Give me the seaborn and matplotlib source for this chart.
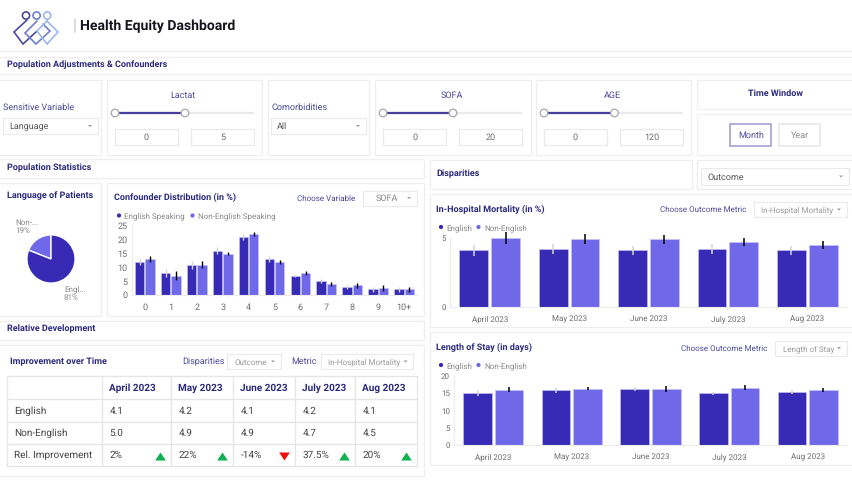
import pandas as pd
import seaborn as sns
import matplotlib.pyplot as plt
from matplotlib.patches import Circle, Polygon, Rectangle

W, H = 853, 480
DARK = '#372BB5'
LIGHT = '#6F69EA'
NAVY = '#2B2A80'
LABEL = '#4A4A9A'
GREY = '#6E6E6E'
BORDER = '#EFEFEF'

# confounder distribution
sofa_bins = ['0', '1', '2', '3', '4', '5', '6', '7', '8', '9', '10+']
sofa_english = [12, 8, 11, 16, 21, 13, 7, 5, 3, 2, 2]
sofa_non_english = [13, 7, 11, 15, 22, 12, 8, 4, 3.5, 2.5, 2]
sofa_english_err = [1, 1.5, 1.5, 1.3, 1, 1, 0.4, 0.8, 0.7, 0.8, 0.8]
sofa_non_english_err = [1.1, 1.7, 1.2, 0.5, 0.7, 0.6, 0.8, 0.8, 0.8, 1, 1]

# outcome charts
months = ['April 2023', 'May 2023', 'June 2023', 'July 2023', 'Aug 2023']
mortality_english = [4.1, 4.2, 4.1, 4.2, 4.1]
mortality_non_english = [5.0, 4.9, 4.9, 4.7, 4.5]
mortality_english_err = [0.38, 0.35, 0.3, 0.36, 0.33]
mortality_non_english_err = [0.45, 0.37, 0.35, 0.28, 0.29]
stay_english = [15.1, 15.8, 16.3, 15.0, 15.4]
stay_non_english = [16.0, 16.3, 16.2, 16.6, 16.0]
stay_english_err = [0.8, 0.6, 0.6, 0.5, 0.6]
stay_non_english_err = [0.7, 0.4, 0.8, 0.8, 0.5]

# pie
language_labels = ['Non-...', 'Engl...']
language_shares = [19, 81]

# table
table_header = ['', 'April 2023', 'May 2023', 'June 2023', 'July 2023', 'Aug 2023']
table_english = ['4.1', '4.2', '4.1', '4.2', '4.1']
table_non_english = ['5.0', '4.9', '4.9', '4.7', '4.5']
table_improvement = ['2%', '22%', '-14%', '37.5%', '20%']
improvement_up = [True, True, False, True, True]

sns.set_theme(style='white')
plt.rcParams['font.family'] = ['Roboto', 'DejaVu Sans']
plt.rcParams['text.hinting'] = 'no_hinting'
plt.rcParams['text.hinting_factor'] = 1

fig = plt.figure(figsize=(W / 100, H / 100), dpi=100, facecolor='white')
bg = fig.add_axes([0, 0, 1, 1], zorder=0)
bg.set_xlim(0, W)
bg.set_ylim(H, 0)
bg.axis('off')


def box(x0, y0, x1, y1, edge=BORDER, lw=0.9, fill='white', z=1):
    bg.add_patch(Rectangle((x0, y0), x1 - x0, y1 - y0, fc=fill, ec=edge, lw=lw, zorder=z))


def text(x, y, s, size=6.5, color=GREY, weight='normal', ha='left', z=5):
    bg.text(x, y + 0.8, s, fontsize=size, color=color, fontweight=weight, ha=ha, va='center', zorder=z)


def dropdown(x0, y0, x1, y1, s, color=GREY, center=False, size=6.3):
    box(x0, y0, x1, y1, edge='#EAEAEA', lw=0.8)
    if center:
        text((x0 + x1) / 2 - 3, (y0 + y1) / 2, s, size, color, ha='center')
    else:
        text(x0 + 6, (y0 + y1) / 2, s, size, color)
    cx, cy = x1 - 8, (y0 + y1) / 2
    bg.add_patch(Polygon([(cx - 2, cy - 1), (cx + 2, cy - 1), (cx, cy + 1)], fc='#999999', ec='none', zorder=5))


def slider(title, x0, x1, knob, low, high, title_x, box1, box2):
    text(title_x, 95, title, 6.8, LABEL, ha='center')
    bg.plot([x0, x1], [113, 113], color='#EAEAEA', lw=1.6, zorder=3, solid_capstyle='butt')
    bg.plot([x0, knob], [113, 113], color='#46409A', lw=1.6, zorder=4, solid_capstyle='butt')
    for kx in (x0, knob):
        bg.add_patch(Circle((kx, 113), 3.8, fc='white', ec='#A8A8A8', lw=0.9, zorder=5))
    for (a, b), val in zip((box1, box2), (low, high)):
        box(a, 129, b, 145, edge='#EAEAEA')
        text((a + b) / 2, 137, val, 6.8, GREY, ha='center')


def px_axes(x0, y0, x1, y1):
    ax = fig.add_axes([x0 / W, 1 - y1 / H, (x1 - x0) / W, (y1 - y0) / H], zorder=3)
    ax.patch.set_alpha(0)
    return ax


def grouped_bars(ax, cats, first, second, first_err, second_err, names, ylim, yticks, err_lw, size):
    df = pd.DataFrame({
        'cat': cats * 2,
        'value': first + second,
        'group': [names[0]] * len(cats) + [names[1]] * len(cats),
    })
    sns.barplot(data=df, x='cat', y='value', hue='group', palette=[DARK, LIGHT], ax=ax,
                width=0.8, gap=0.09, errorbar=None, legend=False, saturation=1,
                edgecolor='#C9C6F4', linewidth=0.4)
    bars = sorted([p for p in ax.patches], key=lambda p: p.get_x())
    errs = [e for pair in zip(first_err, second_err) for e in pair]
    for i, (bar, err) in enumerate(zip(bars, errs)):
        x = bar.get_x() + bar.get_width() / 2
        top = bar.get_height()
        ax.vlines(x, top - err, top + err, color='#D5D5D5' if i % 2 == 0 else 'black',
                  lw=err_lw, zorder=6, clip_on=False)
    ax.set_xlim(-0.5, len(cats) - 0.5)
    ax.set_ylim(*ylim)
    ax.set_yticks(yticks)
    ax.set_xlabel('')
    ax.set_ylabel('')
    ax.tick_params(axis='both', length=0, labelsize=size, labelcolor=GREY, pad=3)
    ax.tick_params(axis='x', pad=6)
    sns.despine(ax=ax)
    for side in ('left', 'bottom'):
        ax.spines[side].set_color('#ECECEC')
        ax.spines[side].set_linewidth(0.8)


def chart_legend(x, y, names, gap):
    xs = [x, x + gap]
    for px, name, col in zip(xs, names, (DARK, LIGHT)):
        bg.add_patch(Circle((px, y), 2.1, fc=col, ec='none', zorder=5))
        text(px + 5.5, y, name, 5.9, '#8A8A8A')


# header
box(-2, -2, 855, 51)
logo_cols = ['#4B4A9A', '#6F7FCC', '#9DB7EE']
logo_shapes = [
    [(27, 20), (14, 32), (23, 44), (37, 31)],
    [(37, 21), (25, 33), (36, 44), (50, 31), (43, 24)],
    [(47, 21), (37, 31), (47, 44), (58, 32), (47, 21)],
]
for i, (col, shape) in enumerate(zip(logo_cols, logo_shapes)):
    cx = 26 + 10.6 * i
    bg.add_patch(Circle((cx, 15.5), 3.6, fc='none', ec=col, lw=1.2, zorder=3))
    bg.plot(*zip(*shape), color=col, lw=1.2, zorder=3, solid_joinstyle='miter')
bg.plot([75, 75], [19, 32], color='#D8D8D8', lw=1.2, zorder=3)
text(80, 25, 'Health Equity Dashboard', 10.1, '#15151F', 'bold')

# section bars
box(-2, 57, 855, 74)
text(7, 64, 'Population Adjustments & Confounders', 6.7, NAVY, 'bold')
box(-2, 159, 424, 178)
text(7, 167, 'Population Statistics', 6.7, NAVY, 'bold')
box(-2, 321, 424, 340)
text(7, 328, 'Relative Development', 6.7, NAVY, 'bold')
box(430, 160, 692, 189)
text(436, 172.5, 'Disparities', 6.7, NAVY, 'bold')
box(697, 160, 855, 189)
dropdown(701, 168, 849, 185, 'Outcome', '#555555', size=6.5)

# filter row
for a, b in [(-2, 101), (107, 262), (268, 369), (375, 531), (536, 691)]:
    box(a, 80, b, 155)
box(697, 80, 855, 109)
box(697, 114, 855, 155)

text(3, 107, 'Sensitive Variable', 6.8, LABEL)
dropdown(3, 118, 98, 134, 'Language', '#555555')
text(271.5, 107, 'Comorbidities', 6.8, LABEL)
dropdown(271, 118, 366, 134, 'All', '#555555')
slider('Lactat', 115, 254, 185, '0', '5', 183, (115, 178), (191, 254))
slider('SOFA', 383, 522.5, 453, '0', '20', 451.5, (383, 446.5), (459.5, 522.5))
slider('AGE', 544, 683, 614.5, '0', '120', 612, (544, 607), (620.5, 683.5))
text(775.5, 92.5, 'Time Window', 6.4, NAVY, 'bold', ha='center')
box(730.5, 123.5, 771.5, 146, edge='#9C98CF', lw=1.1)
text(751, 134.5, 'Month', 6.4, LABEL, ha='center')
box(779.5, 123.5, 820, 146, edge='#E6E6E6', lw=1.1)
text(799.5, 134.5, 'Year', 6.4, '#8A8A8A', ha='center')

# language pie
box(-2, 183, 101, 316)
text(7, 195, 'Language of Patients', 6.7, NAVY, 'bold')
pie_ax = px_axes(25, 233, 77, 285)
pie_ax.pie(language_shares, colors=[LIGHT, DARK], startangle=90, counterclock=True, radius=1.0)
pie_ax.set_xlim(-1.08, 1.08)
pie_ax.set_ylim(-1.08, 1.08)
text(15, 221.5, language_labels[0], 6, '#8A8A8A')
text(15, 230, f'{language_shares[0]}%', 6, '#8A8A8A')
text(64, 288, language_labels[1], 6, '#8A8A8A')
text(64, 296.5, f'{language_shares[1]}%', 6, '#8A8A8A')

# confounder chart
box(107, 183, 424, 316)
text(114, 197, 'Confounder Distribution (in %)', 6.6, NAVY, 'bold')
text(297.5, 197.5, 'Choose Variable', 5.6, LABEL)
dropdown(363, 190.5, 417, 205.5, 'SOFA', '#8A8A8A', center=True)
chart_legend(119, 215.5, ['English Speaking', 'Non-English Speaking'], 73.5)
ax1 = px_axes(132, 226, 417, 295)
grouped_bars(ax1, sofa_bins, sofa_english, sofa_non_english, sofa_english_err, sofa_non_english_err,
             ['English Speaking', 'Non-English Speaking'], (0, 25), [0, 5, 10, 15, 20, 25], 1.0, 6.3)

# mortality chart
box(430, 194, 855, 327)
text(436, 208.5, 'In-Hospital Mortality (in %)', 6.6, NAVY, 'bold')
text(660, 209, 'Choose Outcome Metric', 5.6, LABEL)
dropdown(754, 202, 847, 217, 'In-Hospital Mortality', '#9A9A9A', center=True, size=5.9)
chart_legend(441, 227, ['English', 'Non-English'], 37.5)
ax2 = px_axes(450, 238, 847, 307)
grouped_bars(ax2, months, mortality_english, mortality_non_english, mortality_english_err,
             mortality_non_english_err, ['English', 'Non-English'], (0, 5), [0, 5], 1.1, 6.1)

# length of stay chart
box(430, 332, 855, 465)
text(436, 347, 'Length of Stay (in days)', 6.6, NAVY, 'bold')
text(681, 347.5, 'Choose Outcome Metric', 5.6, LABEL)
dropdown(775.5, 340.5, 847, 355.5, 'Length of Stay', '#9A9A9A', center=True, size=6.1)
chart_legend(441, 365, ['English', 'Non-English'], 37.5)
ax3 = px_axes(454, 376, 847, 445)
grouped_bars(ax3, months, stay_english, stay_non_english, stay_english_err,
             stay_non_english_err, ['English', 'Non-English'], (0, 20), [0, 5, 10, 15, 20], 1.1, 6.1)

# improvement table
box(-2, 345, 424, 476)
text(10, 360.5, 'Improvement over Time', 6.6, NAVY, 'bold')
text(182, 361, 'Disparities', 6.2, LABEL)
dropdown(227, 354, 281, 369, 'Outcome', '#9A9A9A', center=True, size=6.1)
text(291, 361, 'Metric', 6.2, LABEL)
dropdown(321, 354, 413.5, 369, 'In-Hospital Mortality', '#9A9A9A', center=True, size=5.9)

col_edges = [7, 102, 171, 233, 295, 355, 417]
row_edges = [376, 399, 422, 444, 466]
for x in col_edges:
    bg.plot([x, x], [row_edges[0], row_edges[-1]], color='#E6E6E6', lw=1, zorder=3)
for y in row_edges:
    bg.plot([col_edges[0], col_edges[-1]], [y, y], color='#E6E6E6', lw=1, zorder=3)
row_centers = [387, 410, 432.5, 454.5]
for x, s in zip(col_edges[:-1], table_header):
    text(x + 7.5, row_centers[0], s, 6.9, NAVY, 'bold')
rows = [('English', table_english), ('Non-English', table_non_english), ('Rel. Improvement', table_improvement)]
for y, (name, vals) in zip(row_centers[1:], rows):
    text(14.5, y, name, 7.1, '#444444')
    for x, v in zip(col_edges[1:-1], vals):
        text(x + 7.5, y, v, 7.0, '#444444')
tri_up = [(-1, -0.75), (1, -0.75), (0, 0.75)]
tri_down = [(-1, 0.75), (1, 0.75), (0, -0.75)]
for x, up in zip(col_edges[2:], improvement_up):
    bg.plot(x - 10.5, 455.5, marker=tri_up if up else tri_down, ms=7.7, mec='none',
            color='#0FB050' if up else '#F01010', zorder=5)

fig.savefig('out.png', dpi=100)
